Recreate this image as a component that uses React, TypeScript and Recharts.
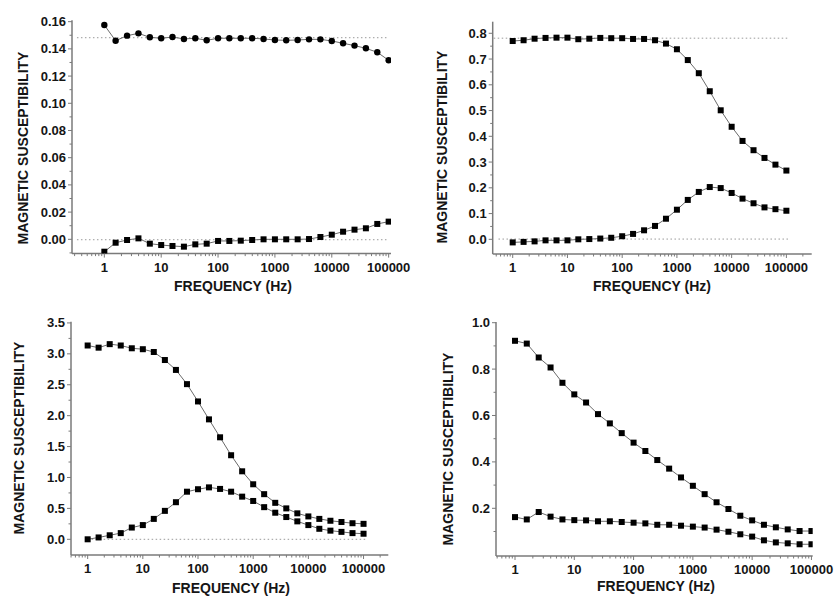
import React from "react";
import { LineChart, Line, XAxis, YAxis, ReferenceLine, Label } from "recharts";

// frequencies (Hz), 5 points per decade
const FREQ = [
  1, 1.58, 2.51, 3.98, 6.31, 10, 15.8, 25.1, 39.8, 63.1, 100, 158, 251, 398, 631,
  1000, 1580, 2510, 3980, 6310, 10000, 15800, 25100, 39800, 63100, 100000,
];

const A_REAL = [
  0.1575, 0.146, 0.1497, 0.1514, 0.1485, 0.1478, 0.1487, 0.1473, 0.1478, 0.1463, 0.1478,
  0.1478, 0.1478, 0.1478, 0.1473, 0.1465, 0.1463, 0.1465, 0.147, 0.147, 0.1458, 0.1441,
  0.1424, 0.1404, 0.1375, 0.1316,
];
const A_IMAG = [
  -0.0091, -0.0025, -0.0005, 0.0007, -0.0032, -0.0042, -0.0049, -0.0054, -0.0037, -0.0032,
  -0.0012, -0.0012, -0.001, -0.0005, 0.0, 0.0, 0.0, 0.0, 0.0002, 0.0017, 0.0034, 0.0056,
  0.0071, 0.0081, 0.0113, 0.013,
];

const B_REAL = [
  0.77, 0.773, 0.779, 0.782, 0.783, 0.783, 0.777, 0.779, 0.782, 0.781, 0.781, 0.778, 0.778,
  0.773, 0.76, 0.738, 0.696, 0.645, 0.575, 0.501, 0.437, 0.382, 0.346, 0.316, 0.29, 0.267,
];
const B_IMAG = [
  -0.012, -0.01, -0.008, -0.004, -0.004, -0.004, 0.0, 0.001, 0.003, 0.006, 0.012, 0.021,
  0.035, 0.052, 0.08, 0.115, 0.153, 0.184, 0.203, 0.199, 0.18, 0.158, 0.14, 0.124, 0.117, 0.111,
];

const C_REAL = [
  3.135, 3.1, 3.157, 3.135, 3.09, 3.075, 3.03, 2.9, 2.74, 2.51, 2.23, 1.94, 1.65, 1.36, 1.1,
  0.89, 0.73, 0.59, 0.5, 0.42, 0.37, 0.33, 0.3, 0.28, 0.26, 0.25,
];
const C_IMAG = [
  0.0, 0.03, 0.065, 0.1, 0.19, 0.23, 0.33, 0.46, 0.6, 0.77, 0.81, 0.84, 0.815, 0.77, 0.69,
  0.62, 0.52, 0.43, 0.36, 0.29, 0.23, 0.17, 0.14, 0.12, 0.1, 0.09,
];

const D_REAL = [
  0.922, 0.91, 0.85, 0.807, 0.741, 0.691, 0.656, 0.606, 0.566, 0.524, 0.483, 0.447, 0.408,
  0.371, 0.333, 0.297, 0.261, 0.226, 0.197, 0.168, 0.148, 0.129, 0.118, 0.109, 0.102, 0.102,
];
const D_IMAG = [
  0.162, 0.152, 0.184, 0.164, 0.152, 0.149, 0.148, 0.144, 0.144, 0.141, 0.138, 0.135, 0.129,
  0.129, 0.125, 0.121, 0.117, 0.108, 0.099, 0.088, 0.078, 0.062, 0.053, 0.049, 0.045, 0.045,
];

const X_MAJOR = [1, 10, 100, 1000, 10000, 100000];

const Y_TICKS_A = [-0.01, 0, 0.01, 0.02, 0.03, 0.04, 0.05, 0.06, 0.07, 0.08, 0.09, 0.1, 0.11, 0.12, 0.13, 0.14, 0.15, 0.16];
const Y_LABELS_A = [0, 0.02, 0.04, 0.06, 0.08, 0.1, 0.12, 0.14, 0.16];
const Y_TICKS_B = [0, 0.05, 0.1, 0.15, 0.2, 0.25, 0.3, 0.35, 0.4, 0.45, 0.5, 0.55, 0.6, 0.65, 0.7, 0.75, 0.8];
const Y_LABELS_B = [0, 0.1, 0.2, 0.3, 0.4, 0.5, 0.6, 0.7, 0.8];
const Y_TICKS_C = [0, 0.25, 0.5, 0.75, 1, 1.25, 1.5, 1.75, 2, 2.25, 2.5, 2.75, 3, 3.25, 3.5];
const Y_LABELS_C = [0, 0.5, 1, 1.5, 2, 2.5, 3, 3.5];
const Y_TICKS_D = [0.1, 0.2, 0.3, 0.4, 0.5, 0.6, 0.7, 0.8, 0.9, 1.0];
const Y_LABELS_D = [0.2, 0.4, 0.6, 0.8, 1.0];

const AXIS = "#7a7a7a";
const LINE = "#6a6a6a";
const TEXT = "#151515";
const FONT = "'Liberation Sans', Arial, sans-serif";

function minorTicks(lo: number, hi: number) {
  const out: number[] = [];
  for (let d = 0.1; d <= 1e6; d *= 10) {
    for (let m = 1; m < 10; m++) {
      const v = Math.round(d * m * 1000) / 1000;
      if (v >= lo && v <= hi) out.push(v);
    }
  }
  return out;
}

const near = (list: number[], v: number) => list.some((t) => Math.abs(t - v) < 1e-9);

const Square = (props: any) => {
  const { cx, cy } = props;
  if (cx == null || cy == null) return null;
  return <rect x={cx - 3} y={cy - 3} width={6} height={6} fill="#000" />;
};
const Circle = (props: any) => {
  const { cx, cy } = props;
  if (cx == null || cy == null) return null;
  return <circle cx={cx} cy={cy} r={3.2} fill="#000" />;
};

interface PanelProps {
  ox: number;
  oy: number;
  box: [number, number, number, number]; // left, top, right, bottom (page px)
  xDomain: [number, number];
  yDomain: [number, number];
  yTicks: number[];
  yLabels: number[];
  digits: number;
  real: number[];
  imag: number[];
  realDot: any;
  refs: { y: number; x1: number; x2: number }[];
  yTitle: [number, number];
  xTitle: [number, number];
}

const W = 419;
const H = 301;

function Panel(p: PanelProps) {
  const data = FREQ.map((f, i) => ({ f, re: p.real[i], im: p.imag[i] }));
  const xTicks = minorTicks(p.xDomain[0], p.xDomain[1]);
  const [l, t, r, b] = p.box;
  const margin = { left: l - p.ox - 1, top: t - p.oy, right: p.ox + W - r, bottom: p.oy + H - b - 1 };

  const XTick = (props: any) => {
    const { x, y, payload } = props;
    const major = near(X_MAJOR, payload.value);
    return (
      <g>
        <line x1={x} x2={x} y1={y} y2={y + (major ? 4 : 2.5)} stroke={AXIS} strokeWidth={1} />
        {major && (
          <text x={x} y={y + 18} textAnchor="middle" fontFamily={FONT} fontWeight="bold" fontSize={13} fill={TEXT}>
            {payload.value}
          </text>
        )}
      </g>
    );
  };
  const YTick = (props: any) => {
    const { x, y, payload } = props;
    const major = near(p.yLabels, payload.value);
    return (
      <g>
        <line x1={x} x2={x - (major ? 4 : 2.5)} y1={y} y2={y} stroke={AXIS} strokeWidth={1} />
        {major && (
          <text x={x - 6} y={y + 4.5} textAnchor="end" fontFamily={FONT} fontWeight="bold" fontSize={13} fill={TEXT}>
            {payload.value.toFixed(p.digits)}
          </text>
        )}
      </g>
    );
  };

  return (
    <div style={{ position: "absolute", left: p.ox, top: p.oy, width: W, height: H }}>
      <LineChart width={W} height={H} data={data} margin={margin}>
        <XAxis
          dataKey="f"
          type="number"
          scale="log"
          domain={p.xDomain}
          allowDataOverflow
          ticks={xTicks}
          interval={0}
          tick={<XTick />}
          tickLine={false}
          tickSize={0}
          tickMargin={0}
          height={1}
          axisLine={{ stroke: AXIS, strokeWidth: 1.5 }}
        >
          <Label
            content={() => (
              <text
                x={p.xTitle[0] - p.ox}
                y={p.xTitle[1] - p.oy + 5}
                textAnchor="middle"
                fontFamily={FONT}
                fontWeight="bold"
                fontSize={14}
                fill={TEXT}
              >
                FREQUENCY (Hz)
              </text>
            )}
          />
        </XAxis>
        <YAxis
          type="number"
          domain={p.yDomain}
          allowDataOverflow
          ticks={p.yTicks}
          interval={0}
          tick={<YTick />}
          tickLine={false}
          tickSize={0}
          tickMargin={0}
          width={1}
          axisLine={{ stroke: AXIS, strokeWidth: 1.5 }}
        >
          <Label
            content={() => {
              const cx = p.yTitle[0] - p.ox;
              const cy = p.yTitle[1] - p.oy;
              return (
                <text
                  x={cx}
                  y={cy}
                  transform={`rotate(-90 ${cx} ${cy})`}
                  textAnchor="middle"
                  dominantBaseline="central"
                  fontFamily={FONT}
                  fontWeight="bold"
                  fontSize={14}
                  fill={TEXT}
                >
                  MAGNETIC SUSCEPTIBILITY
                </text>
              );
            }}
          />
        </YAxis>
        {p.refs.map((rf, i) => (
          <ReferenceLine
            key={i}
            segment={[
              { x: rf.x1, y: rf.y },
              { x: rf.x2, y: rf.y },
            ]}
            stroke="#9a9a9a"
            strokeWidth={1}
            strokeDasharray="1.5 2.5"
          />
        ))}
        <Line dataKey="re" stroke={LINE} strokeWidth={1} dot={p.realDot} isAnimationActive={false} />
        <Line dataKey="im" stroke={LINE} strokeWidth={1} dot={<Square />} isAnimationActive={false} />
      </LineChart>
    </div>
  );
}

export default function App() {
  return (
    <div style={{ position: "absolute", left: 0, top: 0, width: 837, height: 601, background: "#fff" }}>
      <Panel
        ox={0}
        oy={0}
        box={[72, 20.3, 391, 253.6]}
        xDomain={[0.27, 110000]}
        yDomain={[-0.0105, 0.161]}
        yTicks={Y_TICKS_A}
        yLabels={Y_LABELS_A}
        digits={2}
        real={A_REAL}
        imag={A_IMAG}
        realDot={<Circle />}
        refs={[
          { y: 0.1482, x1: 0.33, x2: 100000 },
          { y: -0.0003, x1: 0.33, x2: 100000 },
        ]}
        yTitle={[23, 148]}
        xTitle={[233, 286]}
      />
      <Panel
        ox={418}
        oy={0}
        box={[492.7, 21.7, 811.7, 254]}
        xDomain={[0.431, 290000]}
        yDomain={[-0.057, 0.845]}
        yTicks={Y_TICKS_B}
        yLabels={Y_LABELS_B}
        digits={1}
        real={B_REAL}
        imag={B_IMAG}
        realDot={<Square />}
        refs={[
          { y: 0.781, x1: 0.45, x2: 115000 },
          { y: 0.001, x1: 0.55, x2: 115000 },
        ]}
        yTitle={[442, 147]}
        xTitle={[652, 286]}
      />
      <Panel
        ox={0}
        oy={300}
        box={[71, 321.7, 388.3, 555]}
        xDomain={[0.499, 281000]}
        yDomain={[-0.254, 3.52]}
        yTicks={Y_TICKS_C}
        yLabels={Y_LABELS_C}
        digits={1}
        real={C_REAL}
        imag={C_IMAG}
        realDot={<Square />}
        refs={[{ y: 0, x1: 1, x2: 110000 }]}
        yTitle={[19, 438]}
        xTitle={[231, 588]}
      />
      <Panel
        ox={418}
        oy={300}
        box={[496, 322, 812.7, 556]}
        xDomain={[0.478, 105000]}
        yDomain={[-0.0056, 1.003]}
        yTicks={Y_TICKS_D}
        yLabels={Y_LABELS_D}
        digits={1}
        real={D_REAL}
        imag={D_IMAG}
        realDot={<Square />}
        refs={[]}
        yTitle={[448, 449]}
        xTitle={[656, 586]}
      />
    </div>
  );
}
